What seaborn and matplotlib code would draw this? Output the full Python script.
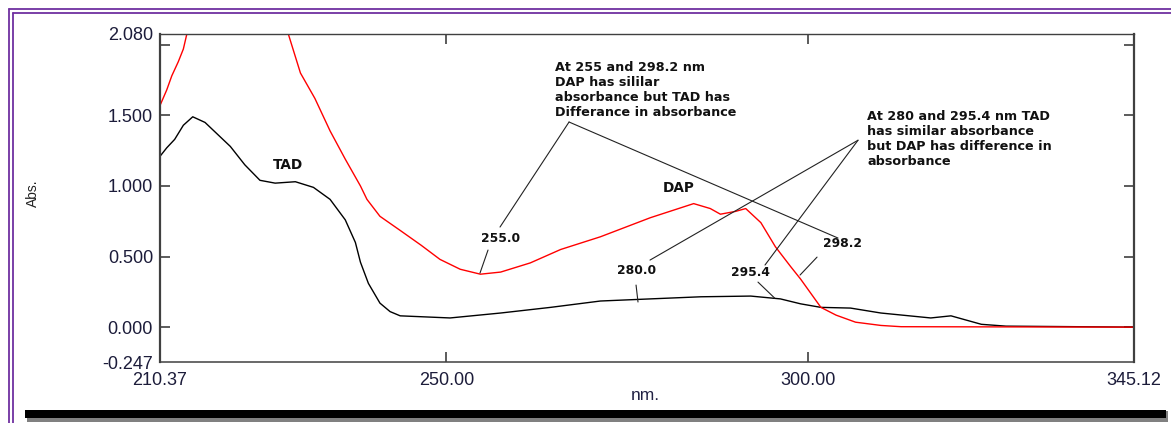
import numpy as np
import pandas as pd
import matplotlib
matplotlib.use("Agg")
import matplotlib.pyplot as plt
import seaborn as sns
from matplotlib.lines import Line2D
from matplotlib.patches import Rectangle

# ---------------- data ----------------
tad_nm = [210.37, 211.3, 212.4, 213.6, 214.9, 216.6, 220.1, 222.1, 224.2, 226.3,
          229.1, 231.6, 233.9, 236.0, 237.4, 238.1, 239.2, 240.8, 242.2, 243.6,
          250.5, 257.5, 264.4, 271.3, 278.2, 285.2, 292.1, 296.2, 299.0, 301.8,
          305.9, 310.1, 317.0, 319.8, 321.9, 324.0, 327.4, 345.12]
tad_abs = [1.21, 1.27, 1.33, 1.43, 1.49, 1.45, 1.28, 1.15, 1.04, 1.02,
           1.03, 0.99, 0.905, 0.76, 0.60, 0.46, 0.31, 0.17, 0.11, 0.08,
           0.065, 0.10, 0.14, 0.185, 0.20, 0.215, 0.22, 0.20, 0.165, 0.14,
           0.135, 0.10, 0.065, 0.08, 0.05, 0.02, 0.007, 0.0]

dap_nm = [210.37, 211.3, 212.0, 212.9, 213.6, 214.1, 215.9, 221.4, 225.6, 228.1,
          229.8, 231.8, 233.9, 236.0, 238.1, 239.0, 240.8, 243.6, 246.5, 249.1,
          251.9, 254.7, 257.5, 261.6, 265.8, 271.3, 278.2, 284.2, 286.5, 287.9,
          290.0, 291.4, 293.5, 295.5, 297.6, 299.0, 300.4, 301.8, 303.9, 306.6,
          310.1, 312.9, 345.12]
dap_abs = [1.57, 1.68, 1.78, 1.88, 1.97, 2.08, 2.25, 2.45, 2.30, 2.08,
           1.80, 1.62, 1.39, 1.19, 1.00, 0.905, 0.785, 0.685, 0.58, 0.48,
           0.41, 0.375, 0.39, 0.455, 0.55, 0.64, 0.775, 0.875, 0.84, 0.80,
           0.82, 0.84, 0.74, 0.57, 0.43, 0.34, 0.24, 0.14, 0.085, 0.035,
           0.012, 0.003, 0.0]

series_names = ["TAD", "DAP"]
series_colors = {"TAD": "black", "DAP": "red"}

y_tick_values = [-0.247, 0.0, 0.5, 1.0, 1.5, 2.08]
y_tick_labels = ["-0.247", "0.000", "0.500", "1.000", "1.500", "2.080"]
y_minor_ticks = [0.0, 0.5, 1.0, 1.5, 2.0]
x_tick_values = [210.37, 250.0, 300.0, 345.12]
x_tick_labels = ["210.37", "250.00", "300.00", "345.12"]
x_minor_ticks = [250.0, 300.0]

note1 = "At 255 and 298.2 nm\nDAP has sililar\nabsorbance but TAD has\nDifferance in absorbance"
note2 = "At 280 and 295.4 nm TAD\nhas similar absorbance\nbut DAP has difference in\nabsorbance"

df = pd.concat([
    pd.DataFrame({"nm": tad_nm, "abs": tad_abs, "sample": "TAD"}),
    pd.DataFrame({"nm": dap_nm, "abs": dap_abs, "sample": "DAP"}),
], ignore_index=True)

# ---------------- figure ----------------
sns.set_style("white")
plt.rcParams["font.family"] = ["Liberation Sans", "DejaVu Sans"]

W, H = 1171, 423
fig = plt.figure(figsize=(W / 100, H / 100), dpi=100)
ax = fig.add_axes([160 / W, 1 - 362 / H, (1134 - 160) / W, (362 - 33.5) / H])

sns.lineplot(data=df, x="nm", y="abs", hue="sample", hue_order=series_names,
             palette=series_colors, legend=False, ax=ax, linewidth=1.0,
             sort=True, estimator=None)

ax.set_xlim(210.37, 345.12)
ax.set_ylim(-0.247, 2.08)

tick_col = "#1c1c3a"
ax.xaxis.remove_overlapping_locs = False
ax.yaxis.remove_overlapping_locs = False
ax.set_yticks(y_tick_values)
ax.set_yticklabels(y_tick_labels)
ax.set_xticks(x_tick_values)
ax.set_xticklabels(x_tick_labels)
ax.set_yticks(y_minor_ticks, minor=True)
ax.set_xticks(x_minor_ticks, minor=True)
ax.tick_params(axis="both", which="major", length=0, labelsize=13, labelcolor=tick_col)
ax.tick_params(axis="y", which="major", pad=5)
ax.tick_params(axis="x", which="major", pad=7)
ax.tick_params(axis="y", which="minor", direction="in", length=7, width=1.2,
               left=True, right=True, color="#404040")
ax.tick_params(axis="x", which="minor", direction="in", length=7, width=1.2,
               bottom=True, top=True, color="#404040")

for side, lw in {"left": 1.6, "right": 1.6, "top": 1.0, "bottom": 1.1}.items():
    ax.spines[side].set_visible(True)
    ax.spines[side].set_color("#404040")
    ax.spines[side].set_linewidth(lw)

ax.set_xlabel("")
ax.set_ylabel("")
fig.text(33 / W, 1 - 193 / H, "Abs.", rotation=90, ha="center", va="center",
         fontsize=10, color="#222222")
fig.text(645 / W, 1 - 395 / H, "nm.", ha="center", va="center",
         fontsize=12.5, color="#222244")

# ---------------- annotations ----------------
bold = dict(family="DejaVu Sans", fontweight="bold", color="#111111")
ax.text(228.08, 1.147, "TAD", ha="center", va="center", fontsize=9.8, **bold)
ax.text(282.17, 0.985, "DAP", ha="center", va="center", fontsize=9.8, **bold)
ax.text(265.02, 1.885, note1, ha="left", va="top", fontsize=9.2, linespacing=1.2, **bold)
ax.text(308.2, 1.535, note2, ha="left", va="top", fontsize=9.2, linespacing=1.2, **bold)

labels = {"255.0": (257.55, 0.631), "298.2": (304.73, 0.589),
          "280.0": (276.36, 0.404), "295.4": (292.0, 0.39)}
for txt, (lx, ly) in labels.items():
    ax.text(lx, ly, txt, ha="center", va="center", fontsize=8.9, **bold)

leader = dict(color="#222222", lw=0.8)
# from note 1
ax.plot([266.96, 257.41], [1.453, 0.709], **leader)
ax.plot([266.96, 304.17], [1.453, 0.631], **leader)
ax.plot([255.75, 254.64], [0.546, 0.383], **leader)
ax.plot([301.27, 298.92], [0.496, 0.369], **leader)
# from note 2
ax.plot([306.94, 278.16], [1.324, 0.475], **leader)
ax.plot([306.94, 294.07], [1.324, 0.44], **leader)
ax.plot([276.23, 276.5], [0.298, 0.178], **leader)
ax.plot([293.1, 295.4], [0.319, 0.206], **leader)

# ---------------- page decoration ----------------
def fx(x):
    return x / W

def fy(y):
    return 1 - y / H

purple = "#7030A0"
for (x0, y0, x1, y1) in [(9, 9, 9, H), (13, 13, 13, H), (9, 9, W, 9), (13, 13, W, 13)]:
    fig.add_artist(Line2D([fx(x0), fx(x1)], [fy(y0), fy(y1)], color=purple, lw=1.3,
                          transform=fig.transFigure))

fig.add_artist(Rectangle((fx(27), fy(422)), fx(1168) - fx(27), 11 / H,
                         transform=fig.transFigure, color="#808080", lw=0))
fig.add_artist(Rectangle((fx(25), fy(418)), fx(1166) - fx(25), 8 / H,
                         transform=fig.transFigure, color="#000000", lw=0))

fig.savefig("out.png", dpi=100)
